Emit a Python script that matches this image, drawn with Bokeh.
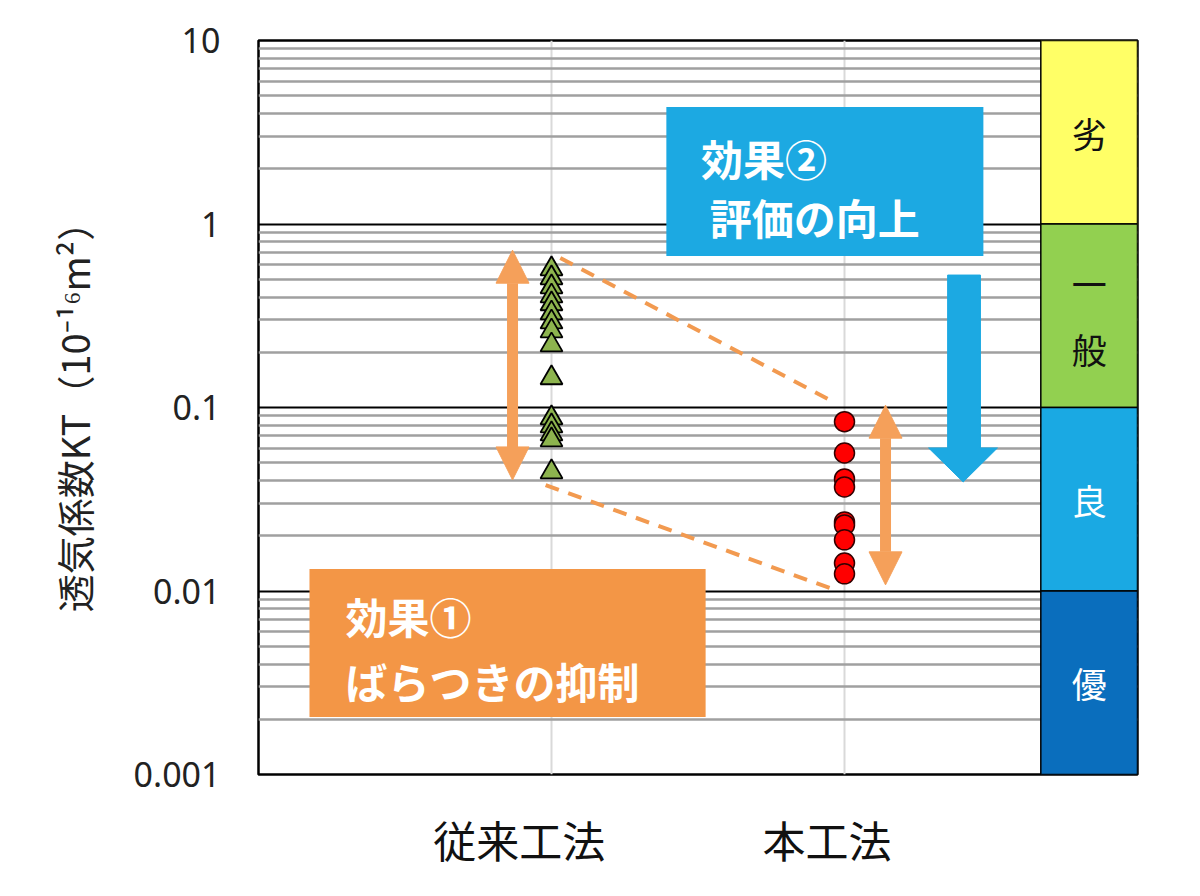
import math
from bokeh.plotting import figure
from bokeh.models import (FixedTicker, CustomJSTickFormatter, BoxAnnotation, Label,
                          Arrow, NormalHead, Range1d)
from bokeh.core.properties import value
from bokeh.embed import file_html
from bokeh.resources import INLINE

# ---------------- data ----------------
methods = ["従来工法", "本工法"]
method_x = [1, 2]
conventional_kt = [0.569, 0.508, 0.454, 0.405, 0.367, 0.327, 0.292, 0.261, 0.219,
                   0.145, 0.0877, 0.0793, 0.0717, 0.0665, 0.0445]
proposed_kt = [0.0837, 0.0565, 0.0408, 0.0369, 0.0238, 0.0229, 0.0190, 0.0142, 0.0124]

y_ticks = [0.001, 0.01, 0.1, 1, 10]
y_tick_labels = ["0.001", "0.01", "0.1", "1", "10"]

grade_labels = ["劣", "一\n般", "良", "優"]
grade_top = [10, 1, 0.1, 0.01]
grade_bottom = [1, 0.1, 0.01, 0.001]
grade_colors = ["#FFFF66", "#92D050", "#1AA9E3", "#0A6EBD"]
grade_text_colors = ["#111111", "#111111", "#FFFFFF", "#FFFFFF"]

effect1_lines = ["効果①", "ばらつきの抑制"]
effect2_lines = ["効果②", "評価の向上"]

# ---------------- figure ----------------
JP = "Noto Sans CJK JP"
p = figure(width=1184, height=880, title=None,
           x_range=Range1d(0, 3), y_range=Range1d(0.001, 10), y_axis_type="log",
           output_backend="svg", toolbar_location=None,
           min_border_left=258, min_border_right=47, min_border_top=40, min_border_bottom=106)
p.background_fill_color = "white"
p.border_fill_color = "white"
p.outline_line_color = "black"
p.outline_line_width = 2.5

minor = [k * 10 ** e for e in range(-3, 1) for k in range(2, 10)]
yticker = FixedTicker(ticks=y_ticks, minor_ticks=minor)
p.yaxis.ticker = yticker
p.yaxis.formatter = CustomJSTickFormatter(
    args=dict(vals=y_ticks, labels=y_tick_labels),
    code="const i = vals.findIndex(v => Math.abs(Math.log10(v) - Math.log10(tick)) < 1e-6); return i >= 0 ? labels[i] : '';")
p.yaxis.major_label_text_font = "Noto Sans"
p.yaxis.major_label_text_font_size = "34px"
p.yaxis.major_label_text_color = "#222222"
p.yaxis.major_label_standoff = 34
p.yaxis.major_tick_line_color = None
p.yaxis.minor_tick_line_color = None
p.yaxis.major_tick_out = 0
p.yaxis.axis_line_color = None
p.yaxis.axis_label = "透気係数KT（10⁻¹⁶m²）"
p.yaxis.axis_label_text_font = JP
p.yaxis.axis_label_text_font_size = "38px"
p.yaxis.axis_label_text_font_style = "normal"
p.yaxis.axis_label_text_color = "#222222"
p.yaxis.axis_label_standoff = 30

label_shift = [-0.11, -0.06]
p.xaxis.ticker = FixedTicker(ticks=[x + s for x, s in zip(method_x, label_shift)])
p.xaxis.formatter = CustomJSTickFormatter(args=dict(labels=methods), code="return labels[index];")
p.xaxis.major_label_text_font = JP
p.xaxis.major_label_text_font_size = "43px"
p.xaxis.major_label_text_color = "#111111"
p.xaxis.major_label_standoff = 33
p.xaxis.major_tick_line_color = None
p.xaxis.minor_tick_line_color = None
p.xaxis.major_tick_out = 0
p.xaxis.axis_line_color = None

p.xgrid.ticker = FixedTicker(ticks=method_x)
p.xgrid.grid_line_color = "#D9D9D9"
p.xgrid.grid_line_width = 2
p.ygrid.ticker = yticker
p.ygrid.grid_line_color = "black"
p.ygrid.grid_line_width = 2
p.ygrid.minor_grid_line_color = "#A0A0A0"
p.ygrid.minor_grid_line_width = 2.5

# ---------------- grade bands ----------------
p.quad(left=2.67, right=3.0, top=grade_top, bottom=grade_bottom,
       fill_color=grade_colors, line_color="black", line_width=1.5)
p.text(x=[2.835] * 4, y=[math.sqrt(t * b) for t, b in zip(grade_top, grade_bottom)],
       text=grade_labels, text_color=grade_text_colors, text_font=value(JP),
       text_font_size="35px", text_align="center", text_baseline="middle",
       text_line_height=1.3)

# ---------------- annotation lines / arrows ----------------
dash_color = "#F29A50"
p.line(x=[1.03, 1.95], y=[0.653, 0.11], line_color=dash_color, line_width=4, line_dash="14 10")
p.line(x=[0.98, 1.97], y=[0.0378, 0.0101], line_color=dash_color, line_width=4, line_dash="14 10")

arrow_orange = "#F5A05A"
for xa, y0, y1 in [(0.867, 0.72, 0.0403), (2.14, 0.103, 0.0108)]:
    p.add_layout(Arrow(x_start=xa, y_start=y1, x_end=xa, y_end=y0,
                       line_color=arrow_orange, line_width=11,
                       start=NormalHead(size=33, fill_color=arrow_orange, line_color=arrow_orange, line_width=1),
                       end=NormalHead(size=33, fill_color=arrow_orange, line_color=arrow_orange, line_width=1)))

blue = "#1CA9E2"
p.patch(x=[2.352, 2.464, 2.464, 2.522, 2.405, 2.287, 2.352],
        y=[0.527, 0.527, 0.0602, 0.0602, 0.0393, 0.0602, 0.0602],
        fill_color=blue, line_color=blue, line_width=1)

# ---------------- data points ----------------
p.scatter(x=[method_x[0]] * len(conventional_kt), y=conventional_kt, marker="triangle",
          size=22, fill_color="#8DB44E", line_color="black", line_width=1.8)
p.scatter(x=[method_x[1]] * len(proposed_kt), y=proposed_kt, marker="circle",
          size=20, fill_color="#FF0000", line_color="#330000", line_width=1.5)

# ---------------- effect boxes ----------------
p.add_layout(BoxAnnotation(left=1.392, right=2.474, top=4.34, bottom=0.669,
                           fill_color=blue, fill_alpha=1, line_color=None))
p.add_layout(BoxAnnotation(left=0.174, right=1.526, top=0.01318, bottom=0.002058,
                           fill_color="#F39646", fill_alpha=1, line_color=None))
for txt, xx, yy in [(effect2_lines[0], 1.51, 2.317), (effect2_lines[1], 1.54, 1.105),
                    (effect1_lines[0], 0.297, 0.00731), (effect1_lines[1], 0.297, 0.00327)]:
    p.add_layout(Label(x=xx, y=yy, text=txt, text_color="white", text_font=JP,
                       text_font_size="42px", text_font_style="bold",
                       text_align="left", text_baseline="middle"))

open("out.html", "w").write(file_html(p, INLINE))
